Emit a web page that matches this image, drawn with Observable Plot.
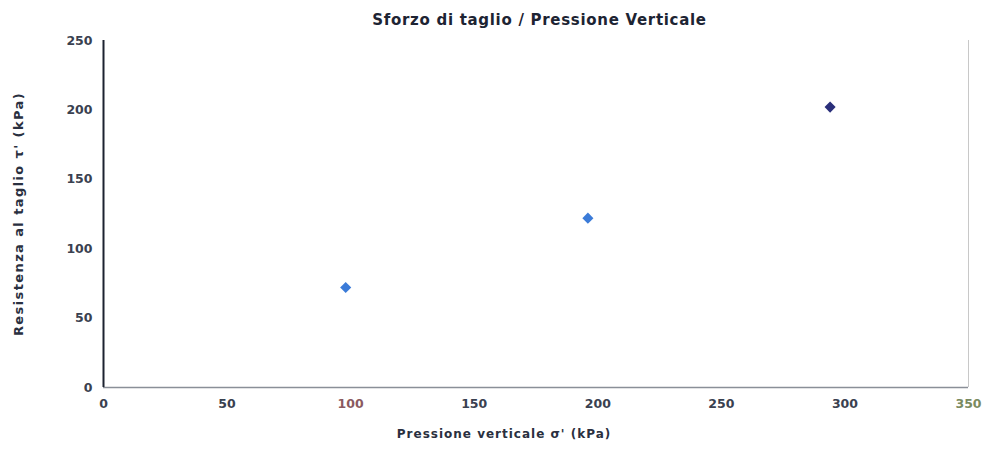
<!DOCTYPE html>
<html>
<head>
<meta charset="utf-8">
<script src="https://cdn.jsdelivr.net/npm/d3@7"></script>
<script src="https://cdn.jsdelivr.net/npm/@observablehq/plot@0.6"></script>
<style>
  html, body { margin: 0; padding: 0; background: #fff; }
  #wrap { position: relative; width: 983px; height: 453px; font-family: "DejaVu Sans", sans-serif; }
  #title { position: absolute; left: 0; top: 11px; width: 983px; text-align: center; font-weight: bold; font-size: 15px; letter-spacing: 0.7px; color: #1d2433; padding-left: 96px; box-sizing: border-box; }
</style>
</head>
<body>
<div id="wrap">
  <div id="chart"></div>
  <div id="title">Sforzo di taglio / Pressione Verticale</div>
</div>
<script>
const pressione = [98, 196, 294];          // kPa
const resistenza = [72, 122, 202];         // kPa
const pointColors = ["#3b7bd8", "#3b7bd8", "#2a2f7a"];
const xTicks = [0, 50, 100, 150, 200, 250, 300, 350];
const yTicks = [0, 50, 100, 150, 200, 250];
const xTickColors = ["#3a4150", "#3a4150", "#8a5a60", "#3a4150", "#3a4150", "#3a4150", "#3a4150", "#7a8a60"];

const data = pressione.map((x, i) => ({x, y: resistenza[i], c: pointColors[i]}));

const chart = Plot.plot({
  width: 983,
  height: 453,
  marginLeft: 103,
  marginRight: 15,
  marginTop: 40,
  marginBottom: 66,
  style: {fontFamily: "DejaVu Sans, sans-serif", fontSize: "12.5px", fontWeight: "bold", background: "#fff"},
  x: {domain: [0, 350], ticks: xTicks, label: null},
  y: {domain: [0, 250], ticks: yTicks, label: null},
  marks: [
    Plot.ruleX([350], {stroke: "#c8c8c8", strokeWidth: 1}),
    Plot.ruleY([0], {stroke: "#8a8f98", strokeWidth: 1.5}),
    Plot.ruleX([0], {stroke: "#1c2230", strokeWidth: 2}),
    Plot.axisY({ticks: yTicks, tickSize: 0, tickPadding: 11, fill: "#3a4150", label: null}),
    Plot.axisX({ticks: xTicks, tickSize: 0, tickPadding: 12, fill: (d) => xTickColors[xTicks.indexOf(d)], label: null}),
    Plot.dot(data, {x: "x", y: "y", fill: "c", symbol: "diamond2", r: 5}),
    Plot.text(["Pressione verticale σ' (kPa)"], {frameAnchor: "bottom", dx: -32, dy: 50, fontSize: 12, fontWeight: "bold", fill: "#2a3040", text: d => d, style: "letter-spacing:1px"}),
    Plot.text(["Resistenza al taglio τ' (kPa)"], {frameAnchor: "left", dx: -85, rotate: -90, textAnchor: "middle", fontSize: 13, fontWeight: "bold", fill: "#2a3040", text: d => d})
  ]
});
chart.querySelectorAll("text").forEach(t => {
  if (t.textContent.startsWith("Pressione")) t.style.letterSpacing = "1px";
  if (t.textContent.startsWith("Resistenza")) t.style.letterSpacing = "1.4px";
});
document.getElementById("chart").appendChild(chart);
</script>
</body>
</html>
